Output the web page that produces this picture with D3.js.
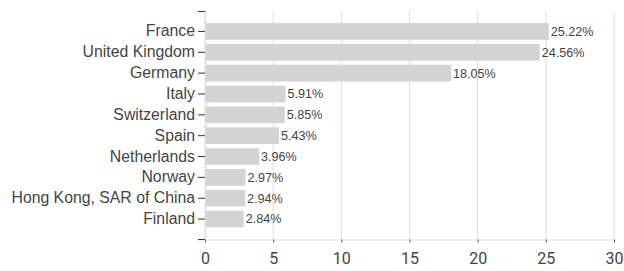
<!DOCTYPE html>
<html>
<head>
<meta charset="utf-8">
<script src="https://cdn.jsdelivr.net/npm/d3@7"></script>
<style>
body { margin: 0; background: #fff; }
text { font-family: "Liberation Sans", Arial, sans-serif; }
</style>
</head>
<body>
<div id="chart"></div>
<script>
// data
var countries = ["France", "United Kingdom", "Germany", "Italy", "Switzerland", "Spain",
    "Netherlands", "Norway", "Hong Kong, SAR of China", "Finland"];
var shares = [25.22, 24.56, 18.05, 5.91, 5.85, 5.43, 3.96, 2.97, 2.94, 2.84];
var xTicks = [0, 5, 10, 15, 20, 25, 30];

var svgWidth = 624;
var svgHeight = 271;
var margin = { top: 11, right: 10, bottom: 32, left: 205 };
var width = 614 - margin.left;
var height = 239.5 - margin.top;

var svg = d3.select("#chart")
    .append("svg")
    .attr("width", svgWidth)
    .attr("height", svgHeight);

var chartGroup = svg.append("g")
    .attr("transform", `translate(${margin.left}, ${margin.top})`);

var xScale = d3.scaleLinear()
    .domain([0, 30])
    .range([0, width]);

var yScale = d3.scaleBand()
    .domain(countries)
    .range([0, height])
    .paddingInner(0.2)
    .paddingOuter(0.58);

// grid lines
chartGroup.selectAll(".grid")
    .data(xTicks)
    .enter()
    .append("line")
    .attr("x1", d => xScale(d))
    .attr("x2", d => xScale(d))
    .attr("y1", 0)
    .attr("y2", height)
    .attr("stroke", "#ddd")
    .attr("stroke-width", 1);

// x axis
var xAxis = chartGroup.append("g")
    .attr("transform", `translate(0, ${height})`)
    .call(d3.axisBottom(xScale).tickValues(xTicks).tickSize(3).tickPadding(10));
xAxis.select(".domain").attr("stroke", "#ddd");
xAxis.selectAll(".tick line").attr("stroke", "#555");
xAxis.selectAll("text").attr("font-size", 16).attr("fill", "#444")
    .style("font-family", "Roboto, 'Liberation Sans', sans-serif");

// y axis
var yAxis = chartGroup.append("g")
    .call(d3.axisLeft(yScale).tickSize(7).tickPadding(3).tickSizeOuter(7));
yAxis.select(".domain").attr("stroke", "#ddd");
yAxis.selectAll(".tick line").attr("stroke", "#333");
yAxis.selectAll("text").attr("font-size", 15.8).attr("fill", "#444");

// outer ticks in dark
chartGroup.append("line")
    .attr("x1", -7).attr("x2", 0).attr("y1", 0.5).attr("y2", 0.5)
    .attr("stroke", "#333");
chartGroup.append("line")
    .attr("x1", -7).attr("x2", 0).attr("y1", height).attr("y2", height)
    .attr("stroke", "#333");

// bars
chartGroup.selectAll("rect")
    .data(countries)
    .enter()
    .append("rect")
    .attr("x", 1)
    .attr("y", d => yScale(d))
    .attr("width", (d, i) => xScale(shares[i]) - 1)
    .attr("height", yScale.bandwidth())
    .attr("fill", "#d3d3d3");

// value labels
chartGroup.selectAll(".val")
    .data(countries)
    .enter()
    .append("text")
    .attr("x", (d, i) => xScale(shares[i]) + 2)
    .attr("y", d => yScale(d) + yScale.bandwidth() / 2)
    .attr("dy", "0.35em")
    .attr("font-size", 12.6)
    .attr("fill", "#444")
    .text((d, i) => shares[i].toFixed(2) + "%");
</script>
</body>
</html>
